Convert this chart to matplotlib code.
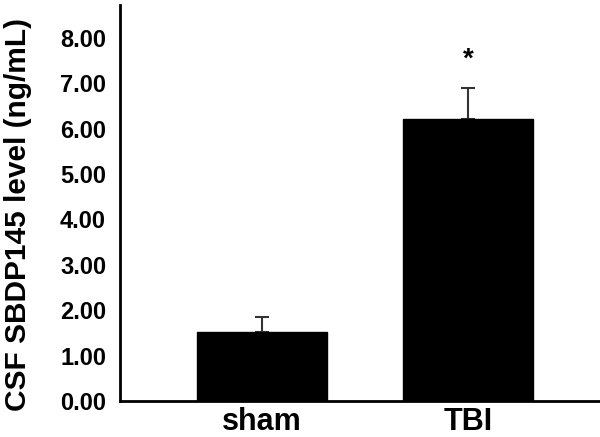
import matplotlib
matplotlib.use("Agg")
import matplotlib.pyplot as plt

categories = ["sham", "TBI"]
means = [1.53, 6.21]
errors = [0.33, 0.69]
tick_values = [0, 1, 2, 3, 4, 5, 6, 7, 8]
tick_labels = ["0.00", "1.00", "2.00", "3.00", "4.00", "5.00", "6.00", "7.00", "8.00"]
sig_marks = ["", "*"]

plt.rcParams['font.family'] = ['Liberation Sans', 'DejaVu Sans']
plt.rcParams['font.weight'] = 'bold'

fig = plt.figure(figsize=(6, 4.37), dpi=100)
ax = fig.add_axes([0.2, 0.0824, 0.8, 0.9062])

x = list(range(len(categories)))
ax.bar(x, means, width=0.634, color='black', edgecolor='black', zorder=2)
ax.errorbar(x, means, yerr=[[0]*len(means), errors], fmt='none', ecolor='#333333',
            elinewidth=1.5, capsize=5, capthick=1.5, zorder=1)

for xi, m, e, s in zip(x, means, errors, sig_marks):
    if s:
        ax.text(xi, 7.52, s, ha='center', va='center', fontsize=20, fontweight='bold')

ax.set_xlim(-0.69, 1.64)
ax.set_ylim(0, 8.72)
ax.set_xticks(x)
ax.set_xticklabels(categories, fontsize=22, fontweight='bold')
ax.set_yticks(tick_values)
ax.set_yticklabels(tick_labels, fontsize=17, fontweight='bold')
ax.tick_params(axis='both', length=0)
ax.tick_params(axis='y', pad=10)
ax.tick_params(axis='x', pad=4)
ax.set_ylabel("CSF SBDP145 level (ng/mL)", fontsize=21.5, fontweight='bold')
ax.yaxis.set_label_coords(-0.184, 0.472)

for side in ['top', 'right']:
    ax.spines[side].set_visible(False)
for side in ['left', 'bottom']:
    ax.spines[side].set_linewidth(2)

fig.savefig("out.png", dpi=100)
